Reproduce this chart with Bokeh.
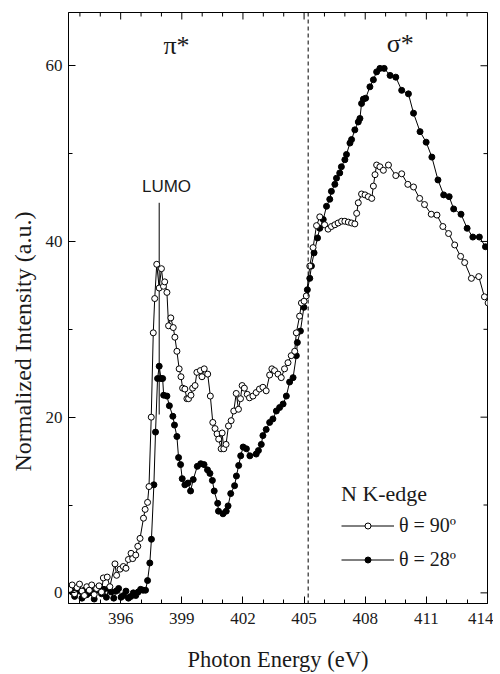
from math import pi
from bokeh.plotting import figure
from bokeh.models import Range1d, FixedTicker, Span, Legend, LegendItem, Title
from bokeh.core.properties import value
from bokeh.embed import file_html
from bokeh.resources import INLINE

# ---------------- data ----------------
energy_90 = [393.50, 393.62, 393.74, 393.86, 393.98, 394.10, 394.22, 394.34, 394.46, 394.58,
             394.70, 394.82, 394.94, 395.06, 395.15, 395.34, 395.47, 395.72, 395.80, 395.97,
             396.13, 396.26, 396.38, 396.51, 396.59, 396.74, 396.84, 396.95, 397.12, 397.20,
             397.32, 397.39, 397.50, 397.60, 397.67, 397.77, 397.89, 398.00, 398.10, 398.16,
             398.27, 398.35, 398.46, 398.58, 398.66, 398.76, 398.87, 398.96, 399.04, 399.15,
             399.25, 399.33, 399.45, 399.53, 399.65, 399.74, 399.91, 399.99, 400.10, 400.27,
             400.40, 400.52, 400.63, 400.73, 400.81, 400.93, 400.98, 401.06, 401.17, 401.29,
             401.42, 401.55, 401.67, 401.78, 401.88, 401.96, 402.07, 402.21, 402.32, 402.49,
             402.65, 402.81, 402.98, 403.14, 403.31, 403.42, 403.55, 403.72, 403.88, 404.04,
             404.21, 404.37, 404.54, 404.62, 404.78, 404.87, 405.00, 405.11, 405.28, 405.44,
             405.61, 405.77, 406.01, 406.18, 406.34, 406.51, 406.67, 406.84, 407.00, 407.17,
             407.33, 407.49, 407.58, 407.66, 407.82, 407.99, 408.15, 408.32, 408.40, 408.48,
             408.56, 408.72, 408.89, 409.14, 409.50, 409.79, 410.09, 410.37, 410.67, 410.91,
             411.24, 411.52, 411.81, 412.09, 412.39, 412.68, 412.88, 413.21, 413.57, 413.85,
             414.03]
intensity_90 = [0.4, 0.9, -0.1, 0.6, 1.0, 0.2, -0.3, 0.7, 0.3, 0.9,
                -0.2, 0.5, 0.8, 0.1, 1.7, 1.8, 0.7, 3.3, 2.0, 2.7,
                3.0, 2.8, 3.8, 4.5, 3.9, 4.3, 5.3, 6.2, 8.5, 9.5,
                10.3, 12.1, 20.0, 29.6, 33.5, 37.4, 34.7, 36.9, 34.9, 35.4,
                34.2, 30.4, 31.3, 30.2, 29.1, 27.5, 25.5, 24.6, 23.3, 23.2,
                22.1, 22.1, 22.5, 23.3, 23.6, 25.1, 25.3, 24.6, 25.5, 24.9,
                22.4, 19.4, 18.7, 18.1, 17.5, 16.4, 18.2, 16.4, 16.9, 19.0,
                19.6, 20.7, 22.7, 20.9, 22.1, 23.6, 23.3, 22.6, 22.2, 22.4,
                22.8, 23.2, 23.4, 23.0, 24.8, 25.5, 25.3, 24.9, 24.5, 25.5,
                26.2, 27.0, 27.5, 29.6, 31.5, 33.0, 33.2, 33.8, 37.2, 39.3,
                41.8, 42.8, 41.9, 41.4, 41.7, 41.9, 42.1, 42.3, 42.3, 42.2,
                42.1, 42.0, 43.2, 44.4, 45.4, 45.3, 45.1, 44.9, 46.3, 47.6,
                48.7, 48.5, 48.1, 48.7, 47.5, 47.7, 46.5, 46.2, 44.9, 44.2,
                43.1, 43.0, 41.7, 40.9, 39.6, 38.3, 37.6, 35.8, 36.0, 33.7,
                33.0]

energy_28 = [393.50, 393.62, 393.74, 393.86, 393.98, 394.10, 394.22, 394.34, 394.46, 394.58,
             394.70, 394.82, 394.94, 395.06, 395.18, 395.30, 395.42, 395.54, 395.66, 395.78,
             395.90, 396.02, 396.14, 396.26, 396.38, 396.50, 396.62, 396.74, 396.86, 396.98,
             397.10, 397.22, 397.32, 397.43, 397.51, 397.63, 397.71, 397.81, 397.89, 397.98,
             398.06, 398.11, 398.27, 398.39, 398.56, 398.64, 398.76, 398.84, 398.94, 399.02,
             399.15, 399.30, 399.43, 399.56, 399.76, 399.93, 400.09, 400.26, 400.38, 400.50,
             400.59, 400.76, 400.80, 401.02, 401.18, 401.27, 401.40, 401.59, 401.68, 401.79,
             401.89, 402.01, 402.17, 402.34, 402.65, 402.76, 402.90, 402.98, 403.14, 403.31,
             403.47, 403.64, 403.80, 403.97, 404.13, 404.29, 404.46, 404.62, 404.67, 404.82,
             404.99, 405.16, 405.28, 405.36, 405.49, 405.66, 405.77, 405.94, 406.10, 406.26,
             406.34, 406.51, 406.59, 406.75, 406.83, 407.00, 407.08, 407.25, 407.33, 407.49,
             407.66, 407.74, 407.82, 407.91, 408.02, 408.23, 408.40, 408.56, 408.72, 408.93,
             409.22, 409.50, 409.79, 410.12, 410.37, 410.69, 410.99, 411.27, 411.57, 411.85,
             412.12, 412.34, 412.70, 413.00, 413.28, 413.60, 413.90]
intensity_28 = [0.6, 0.1, -0.4, 0.5, 0.2, -0.6, 0.3, -0.2, 0.5, 0.0,
                -0.7, 0.3, 0.6, -0.1, 0.4, -0.5, 0.5, 0.1, -0.6, 0.2,
                0.5, -0.5, -0.3, 0.2, -0.6, -0.4, 0.0, -0.3, 0.1, 0.4,
                0.3, 0.3, 1.4, 3.4, 6.1, 12.3, 18.3, 24.4, 25.8, 24.4,
                24.4, 22.5, 22.4, 21.3, 20.1, 19.1, 17.8, 15.4, 14.6, 13.0,
                12.3, 12.5, 11.6, 12.9, 14.4, 14.7, 14.6, 14.0, 13.6, 12.8,
                11.6, 10.2, 9.3, 9.0, 9.3, 9.9, 11.3, 12.2, 13.3, 14.5,
                15.6, 16.6, 16.4, 15.6, 15.8, 16.2, 16.9, 17.9, 18.6, 19.4,
                19.8, 20.7, 21.1, 21.5, 22.4, 24.0, 24.5, 27.0, 28.5, 29.8,
                32.5, 34.5, 35.8, 37.2, 38.7, 40.4, 41.5, 42.5, 44.0, 44.8,
                45.7, 46.5, 47.2, 47.8, 48.5, 49.3, 49.9, 51.2, 51.6, 52.7,
                53.6, 54.0, 55.7, 56.2, 56.3, 57.6, 58.4, 59.3, 59.7, 59.7,
                58.9, 58.7, 57.2, 56.8, 54.6, 52.5, 51.3, 49.6, 47.0, 45.3,
                45.1, 43.7, 43.1, 41.5, 40.5, 40.5, 39.4]

x_start, x_end = 393.44, 414.0
y_start, y_end = -1.21, 66.06
x_major_ticks = [396, 399, 402, 405, 408, 411, 414]
x_minor_ticks = [394, 395, 397, 398, 400, 401, 403, 404, 406, 407, 409, 410, 412, 413]
y_major_ticks = [0, 20, 40, 60]
y_minor_ticks = [10, 30, 50]

edge_energy = 405.2
lumo_energy = 397.89
lumo_line_top = 44.4
lumo_line_bottom = 20.3

region_labels = ["π*", "σ*"]
region_x = [398.74, 409.72]
region_y = [62.35, 62.5]

lumo_label = ["LUMO"]
lumo_label_x = [398.25]
lumo_label_y = [46.2]

series_labels = ["θ = 90º", "θ = 28º"]
legend_title = "N K-edge"

SERIF = "Liberation Serif"
SANS = "Liberation Sans"
INK = "#1a1a1a"

# ---------------- figure ----------------
p = figure(width=493, height=674,
           x_range=Range1d(x_start, x_end), y_range=Range1d(y_start, y_end),
           output_backend="svg", toolbar_location=None,
           min_border_left=68, min_border_right=6, min_border_top=12, min_border_bottom=69,
           x_axis_label="Photon Energy (eV)")
bottom_axis = p.below[0]
left_axis = p.left[0]
p.grid.visible = False
p.outline_line_color = "black"
p.outline_line_width = 1
p.background_fill_color = "white"
p.border_fill_color = "white"

bottom_axis.ticker = FixedTicker(ticks=x_major_ticks, minor_ticks=x_minor_ticks)
left_axis.ticker = FixedTicker(ticks=y_major_ticks, minor_ticks=y_minor_ticks)

for ax in [bottom_axis, left_axis]:
    ax.axis_line_color = "black"
    ax.axis_line_width = 1
    ax.major_tick_in = 7
    ax.major_tick_out = 0
    ax.minor_tick_in = 4
    ax.minor_tick_out = 0
    ax.major_tick_line_color = "black"
    ax.minor_tick_line_color = "black"
    ax.major_label_text_font = SERIF
    ax.major_label_text_font_size = "17px"
    ax.major_label_text_color = INK

bottom_axis.major_label_standoff = 9
left_axis.major_label_standoff = 6
bottom_axis.axis_label_text_font = SERIF
bottom_axis.axis_label_text_font_size = "22.5px"
bottom_axis.axis_label_text_font_style = "normal"
bottom_axis.axis_label_text_color = INK
bottom_axis.axis_label_standoff = 20

ylabel = Title(text="Normalized Intensity (a.u.)", align="left", offset=132,
               text_font=SERIF, text_font_size="24px", text_font_style="normal",
               text_color=INK, standoff=14)
p.add_layout(ylabel, "left")

# inward ticks on the top and right edges of the frame (clipped to the frame)
p.scatter(x=x_major_ticks, y=[y_end] * len(x_major_ticks), marker="dash", angle=pi / 2,
          size=14, line_color="black", line_width=1)
p.scatter(x=x_minor_ticks, y=[y_end] * len(x_minor_ticks), marker="dash", angle=pi / 2,
          size=8, line_color="black", line_width=1)
p.scatter(x=[x_end] * len(y_major_ticks), y=y_major_ticks, marker="dash",
          size=14, line_color="black", line_width=1)
p.scatter(x=[x_end] * len(y_minor_ticks), y=y_minor_ticks, marker="dash",
          size=8, line_color="black", line_width=1)

# edge marker and LUMO marker
p.add_layout(Span(location=edge_energy, dimension="height", line_color="black",
                  line_width=1, line_dash="4 3"))
p.segment(x0=[lumo_energy], y0=[lumo_line_bottom], x1=[lumo_energy], y1=[lumo_line_top],
          line_color="black", line_width=1)

# data
l28 = p.line(energy_28, intensity_28, line_color="black", line_width=1)
s28 = p.scatter(energy_28, intensity_28, size=6, fill_color="black", line_color="black",
                line_width=1)
l90 = p.line(energy_90, intensity_90, line_color="black", line_width=1)
s90 = p.scatter(energy_90, intensity_90, size=6, fill_color="white", line_color="black",
                line_width=1)

# text annotations
p.text(x=region_x, y=region_y, text=region_labels, text_font=value(SERIF),
       text_font_size="26px", text_align="center", text_baseline="middle", text_color=INK)
p.text(x=lumo_label_x, y=lumo_label_y, text=lumo_label, text_font=value(SANS),
       text_font_size="17px", text_align="center", text_baseline="middle", text_color=INK)

legend = Legend(items=[LegendItem(label=series_labels[0], renderers=[l90, s90]),
                       LegendItem(label=series_labels[1], renderers=[l28, s28])],
                location=(273, 29), title=legend_title,
                title_text_font=SERIF, title_text_font_size="22px", title_text_font_style="normal",
                title_text_color=INK, title_standoff=3,
                label_text_font=SERIF, label_text_font_size="20px", label_text_color=INK,
                glyph_width=53, glyph_height=15, label_height=30, label_standoff=5,
                spacing=4, padding=0, margin=0,
                border_line_color=None, background_fill_alpha=0)
p.add_layout(legend)

open("out.html", "w").write(file_html(p, INLINE))
